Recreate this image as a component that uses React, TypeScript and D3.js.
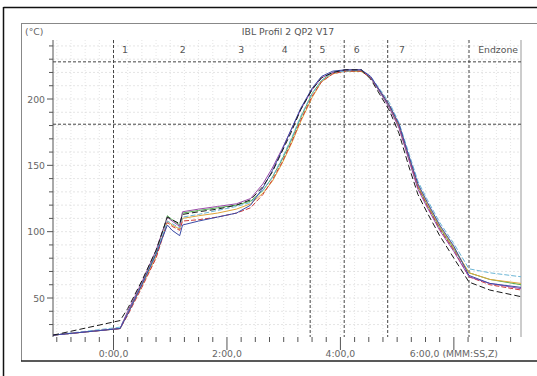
import * as d3 from 'd3';
import React from "react";

// time in seconds, temperature in °C
const TIME = [-64, 7, 15, 30, 45, 57, 62, 70, 73, 90, 110, 130, 145, 158, 168, 178, 188, 198, 210, 220, 232, 245, 262, 272, 282, 292, 302, 312, 322, 332, 345, 360, 376, 398, 431];

const BLACK = [22, 33, 42, 63, 86, 111, 109, 106, 113, 115, 117, 120, 124, 134, 145, 160, 175, 192, 207, 216, 220, 222, 222, 215, 203, 191, 174, 150, 128, 114, 97, 80, 62, 56, 51];
const BLUE = [22, 27, 38, 60, 83, 105, 101, 97, 105, 108, 111, 114, 120, 133, 146, 161, 177, 193, 208, 217, 221, 222, 222, 217, 206, 195, 181, 158, 136, 122, 105, 89, 67, 61, 58];
const RED = [22, 27, 37, 58, 80, 107, 104, 101, 108, 109, 111, 114, 118, 128, 139, 152, 167, 184, 202, 213, 219, 221, 221, 216, 206, 195, 180, 157, 133, 119, 102, 86, 66, 60, 56];
const GREEN = [22, 27, 39, 61, 84, 112, 109, 105, 114, 116, 118, 120, 123, 131, 141, 154, 169, 186, 204, 214, 220, 221, 221, 216, 205, 194, 179, 156, 134, 120, 103, 87, 69, 64, 60];
const ORANGE = [22, 27, 38, 59, 81, 108, 105, 102, 110, 112, 114, 117, 121, 129, 138, 151, 166, 183, 201, 213, 219, 221, 221, 216, 206, 195, 180, 157, 135, 121, 104, 88, 69, 64, 61];
const CYAN = [22, 28, 39, 60, 83, 108, 106, 103, 111, 113, 116, 119, 122, 131, 141, 155, 170, 187, 204, 214, 220, 221, 222, 217, 207, 197, 182, 160, 138, 124, 107, 91, 72, 69, 66];
const PURPLE = [22, 27, 40, 62, 86, 111, 108, 104, 115, 117, 119, 121, 125, 136, 148, 162, 177, 192, 207, 216, 220, 222, 222, 216, 205, 193, 178, 155, 132, 118, 101, 85, 66, 61, 57];

const SERIES = [
    { name: "green", values: GREEN, color: "#4fae4f", dash: undefined },
    { name: "orange", values: ORANGE, color: "#e0a53a", dash: undefined },
    { name: "red", values: RED, color: "#cc3a3a", dash: "5 2" },
    { name: "cyan", values: CYAN, color: "#6cb6d6", dash: "5 2" },
    { name: "purple", values: PURPLE, color: "#9a4aa8", dash: undefined },
    { name: "blue", values: BLUE, color: "#3a4aa6", dash: undefined },
    { name: "black", values: BLACK, color: "#1a1a1a", dash: "6 3" },
];

const ZONE_LINES = [0, 208, 244, 290, 376];
const ZONE_LABELS = ["1", "2", "3", "4", "5", "6", "7"];
const ZONE_LABEL_T = [9, 70, 132, 178, 218, 254, 302];
const LIMITS = [228, 181];
const Y_LABELS = [50, 100, 150, 200];
const X_LABELS = [0, 120, 240, 360];
const X_LABEL_TEXT = ["0:00,0", "2:00,0", "4:00,0", "6:00,0 (MMM:SS,Z)"];

export default function App() {
    const W = 537, H = 376;
    const m = { top: 40, right: 521, bottom: 337, left: 53 };

    const x = d3.scaleLinear().domain([-64, 431]).range([m.left, m.right]);
    const y = d3.scaleLinear().domain([50, 200]).range([298, 99]);

    const line = (vals: number[]) => d3.line<number>()
        .x((_, i) => x(TIME[i]))
        .y(d => y(d))(vals) ?? undefined;

    const minorX = d3.range(-60, 431, 15);
    const gridY = d3.range(30, 246, 10);
    const font = "'DejaVu Sans', Verdana, sans-serif";
    const fs = 9.3;

    return (
        <svg width={W} height={H} style={{ position: "absolute", left: 0, top: 0, background: "#fff" }} fontFamily={font}>
            {/* frames */}
            <line x1={3.5} x2={W} y1={7.5} y2={7.5} stroke="#111" strokeWidth={1.5} />
            <line x1={3.5} x2={3.5} y1={7} y2={H} stroke="#111" strokeWidth={1.5} />
            <line x1={21.5} x2={W} y1={23.5} y2={23.5} stroke="#888" />
            <line x1={21.5} x2={21.5} y1={23} y2={361} stroke="#888" />
            <line x1={21} x2={W} y1={361} y2={361} stroke="#222" strokeWidth={1.5} />

            <text x={25} y={35} fontSize={fs} fill="#666">(°C)</text>
            <text x={288} y={35} fontSize={fs} fill="#555" textAnchor="middle">IBL Profil 2 QP2 V17</text>

            {/* light grid */}
            {minorX.map(t => (
                <line key={"gx" + t} x1={x(t)} x2={x(t)} y1={m.top} y2={m.bottom} stroke="#d4d4d4" strokeWidth={0.6} strokeDasharray="1 2" />
            ))}
            {gridY.map(v => (
                <line key={"gy" + v} x1={m.left} x2={m.right} y1={y(v)} y2={y(v)} stroke="#d4d4d4" strokeWidth={0.6} strokeDasharray="2 2" />
            ))}

            {/* axes */}
            <line x1={m.left} x2={m.left} y1={m.top} y2={m.bottom} stroke="#555" />
            <line x1={m.right} x2={m.right} y1={m.top} y2={m.bottom} stroke="#999" />
            {gridY.map(v => (
                <line key={"ty" + v} x1={v % 50 === 0 ? m.left - 6 : m.left - 4} x2={m.left} y1={y(v)} y2={y(v)} stroke="#555" />
            ))}
            {Y_LABELS.map(v => (
                <text key={"ly" + v} x={45} y={y(v) + 1} fontSize={fs} fill="#666" textAnchor="end" dominantBaseline="middle">{v}</text>
            ))}
            {minorX.map(t => (
                <line key={"tx" + t} x1={x(t)} x2={x(t)} y1={m.bottom} y2={t % 120 === 0 ? 350 : 342} stroke="#555" />
            ))}
            {X_LABELS.map((t, i) => (
                <text key={"lx" + t} x={x(t)} y={357} fontSize={fs} fill="#666" textAnchor="middle">{X_LABEL_TEXT[i]}</text>
            ))}

            {/* zones and limits */}
            {ZONE_LINES.map(t => (
                <line key={"z" + t} x1={x(t)} x2={x(t)} y1={m.top} y2={m.bottom} stroke="#444" strokeDasharray="3 2" />
            ))}
            {LIMITS.map(v => (
                <line key={"l" + v} x1={m.left} x2={m.right} y1={y(v)} y2={y(v)} stroke="#444" strokeDasharray="3 2" />
            ))}
            {ZONE_LABELS.map((s, i) => (
                <text key={"zl" + s} x={x(ZONE_LABEL_T[i])} y={53} fontSize={fs} fill="#555">{s}</text>
            ))}
            <text x={m.right - 3} y={53} fontSize={fs} fill="#555" textAnchor="end">Endzone</text>

            {/* curves */}
            {SERIES.map(s => (
                <path key={s.name} d={line(s.values)} fill="none" stroke={s.color} strokeWidth={1} strokeDasharray={s.dash} />
            ))}
        </svg>
    );
}
